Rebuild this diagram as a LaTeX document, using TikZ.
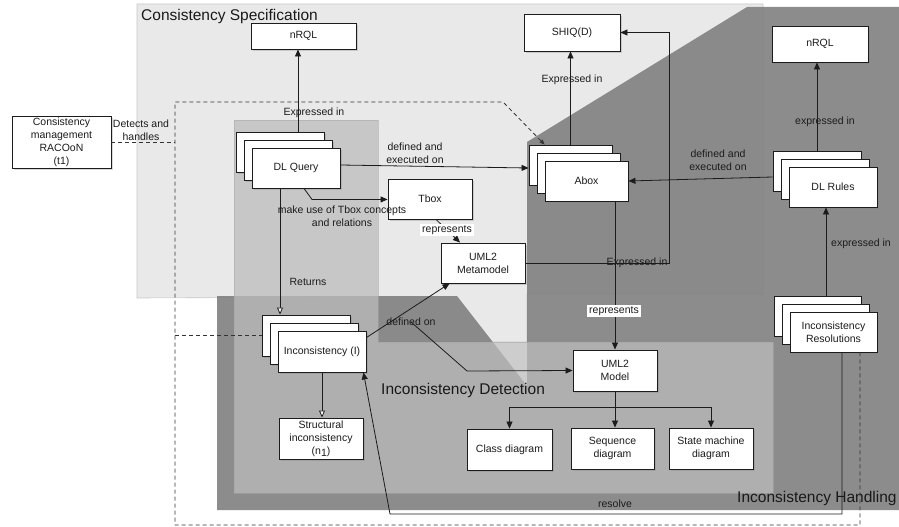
\documentclass[tikz,border=0pt]{standalone}
\usepackage{fontspec}
\setmainfont{Liberation Sans}
\usetikzlibrary{arrows.meta,shadows}
\definecolor{specgray}{RGB}{233,233,233}
\definecolor{handlegray}{RGB}{130,130,130}
\definecolor{detectgray}{RGB}{188,188,188}
\definecolor{inkgray}{RGB}{28,28,28}

\begin{document}
\begin{tikzpicture}
[x=1pt,y=-1pt,
  boxdecorate/.style={shape=rectangle,draw=inkgray,fill=white,line width=0.9pt,
    align=center,inner sep=1pt,text=inkgray,font=\fontsize{10.5}{13}\selectfont,
    drop shadow={shadow xshift=2pt,shadow yshift=-2pt,opacity=0.3}},
  arrowdecorate/.style={-{Triangle[length=7pt,width=6pt]},line width=0.8pt,inkgray},
  openarrow/.style={-{Triangle[open,length=7pt,width=6pt,fill=white]},line width=0.8pt,inkgray},
  labeldecorate/.style={align=center,inner sep=1pt,text=inkgray,font=\fontsize{10.5}{12.5}\selectfont},
  labelbox/.style={labeldecorate,fill=white,inner sep=2pt},
  regiontitle/.style={anchor=west,inner sep=0pt,text=black!90,font=\fontsize{15.5}{18}\selectfont},
  boundary/.style={dash pattern=on 4pt off 3pt,line width=0.8pt,black!80}]
\useasboundingbox (0,0) rectangle (899,527);
%% regions
\fill[specgray,draw=black!22,line width=0.6pt] (137,4) -- (763,4) -- (763,294) -- (527,294)
  -- (527,342) -- (378,342) -- (378,297) -- (137,298) -- cycle;
\fill[handlegray,fill opacity=0.92] (217,296) -- (457,296) -- (527,386) -- (527,142) -- (747,7)
  -- (899,7) -- (899,510) -- (217,510) -- cycle;
\filldraw[fill=detectgray,fill opacity=0.74,draw=black!35,draw opacity=0.5,line width=0.6pt]
  (234,120) -- (378,120) -- (378,342) -- (773,342) -- (773,493) -- (234,493) -- cycle;
\node[regiontitle] (spectitle) at (141,16) {Consistency Specification};
\node[regiontitle] (detecttitle) at (381,390) {Inconsistency Detection};
\node[regiontitle] (handletitle) at (737,498) {Inconsistency Handling};
%% single boxes
\foreach \nodename/\x/\y/\w/\h/\txt in {
  racoon/61.5/142/99/52/{Consistency\\management\\RACOoN\\(t1)},
  nrqlspec/303.5/36/105/26/nRQL, tbox/430/199/84/40/Tbox,
  meta/483/263/84/40/{UML2\\Metamodel}, shiq/572/32.5/96/37/SHIQ(D),
  nrqlrule/820/44/96/36/nRQL, model/615/370.5/84/41/{UML2\\Model},
  struct/321/438.5/84/41/{Structural\\inconsistency\\(n\raisebox{-2.5pt}{1})},
  classd/509.5/449.5/85/41/{Class diagram}, seqd/612.5/448.5/83/41/{Sequence\\diagram},
  stated/711/448.5/84/41/{State machine\\diagram}}
{
  \node (\nodename) at (\x,\y) [boxdecorate,minimum width=\w pt,minimum height=\h pt] {\txt};
}
%% stacked boxes
\foreach \nodename/\x/\y/\w/\h/\txt in {
  query/296/168/88/40/{DL Query}, abox/586.5/181/83/40/Abox,
  rules/833/187/88/40/{DL Rules}, resol/833.5/332/87/40/{Inconsistency\\Resolutions},
  incons/322/351.5/88/41/{Inconsistency (I)}}
{
  \node (\nodename-back) at (\x-16,\y-16) [boxdecorate,minimum width=\w pt,minimum height=\h pt] {};
  \node (\nodename-mid) at (\x-8,\y-8) [boxdecorate,minimum width=\w pt,minimum height=\h pt] {};
  \node (\nodename) at (\x,\y) [boxdecorate,minimum width=\w pt,minimum height=\h pt] {\txt};
}
%% edge labels
\foreach \labelname/\x/\y/\txt in {
  detects/141/130/{Detects and\\handles}, exprnrql/314/113/{Expressed in},
  defexecquery/415/153/{defined and\\executed on},
  makeuse/342/216/{make use of Tbox concepts\\and relations},
  returns/308/282/Returns, definedon/411/322/{defined on},
  exprshiq/572/80/{Expressed in}, exprmeta/637/263/{Expressed in},
  defexecrule/718/160/{defined and\\executed on}, exprrule/825/122/{expressed in},
  exprresol/861/244/{expressed in}, resolve/615/504/resolve}
{
  \node (\labelname) at (\x,\y) [labeldecorate] {\txt};
}
\coordinate (bndsw) at (175,525);
\coordinate (bndnw) at (175,102);
\coordinate (bndne) at (503,102);
\coordinate (shiqbend) at (669,263);
\coordinate (modelbend) at (467,371);
\coordinate (resolvebend) at (390,514);
%% edges or lines
\draw[arrowdecorate] ([xshift=18pt]query-back.north) coordinate (qn) -- (qn |- nrqlspec.south);
\draw[arrowdecorate] ([yshift=3pt]query.east) -- ([yshift=-3pt]abox-back.west);
\draw[arrowdecorate] ([xshift=8pt]query.south) -- ++(8,11) coordinate (qt) -- (qt -| tbox.west);
\draw[openarrow] (query-back.south |- query.south) -- (query-back.south |- incons-back.north);
\draw[openarrow] (incons.south) -- (incons.south |- struct.north);
\draw[arrowdecorate] ([yshift=-7pt]incons.north east) -- ([xshift=9pt]meta.south west);
\draw[arrowdecorate] (definedon.center) -- (modelbend) -- (model.west);
\draw[arrowdecorate] ([xshift=6pt]tbox.south) -- ([xshift=-23pt]meta.north);
\draw[arrowdecorate] (abox-back.north) -- (abox-back.north |- shiq.south);
\draw[arrowdecorate] (meta.east) -- (shiqbend) |- (shiq.east);
\draw[arrowdecorate] (abox.south -| model.north) -- (model.north);
\draw[arrowdecorate] ([yshift=-6pt]rules-back.west) -- (abox.east);
\draw[arrowdecorate] (rules-back.north) -- (rules-back.north |- nrqlrule.south);
\draw[arrowdecorate] ([xshift=8.5pt]resol-back.north) coordinate (rn) -- (rn |- rules.south);
\draw[arrowdecorate] ([xshift=8.5pt]resol.south) |- (resolvebend) -- ([xshift=-3pt]incons.south east);
\draw[inkgray,line width=0.8pt] (model.south) -- ++(0,16) coordinate (split);
\draw[arrowdecorate] (split) -| (classd.north);
\draw[arrowdecorate] (split) -| (stated.north);
\draw[arrowdecorate] (split) -- (split |- seqd.north);
%% white labels on top of lines
\node (reprmeta) at (447,230) [labelbox] {represents};
\node (reprmodel) at (614,311) [labelbox] {represents};
%% system boundary
\draw[boundary,-{Triangle[length=5pt,width=4pt]}] ([xshift=26.5pt]resol.south) |- (bndsw)
  -- (bndnw) -- (bndne) -- ([xshift=16pt]abox-back.north west);
\draw[boundary] (racoon.east) -- (racoon.east -| bndnw);
\draw[boundary] (incons-back.west -| bndnw) -- (incons-back.west);
\end{tikzpicture}
\end{document}
